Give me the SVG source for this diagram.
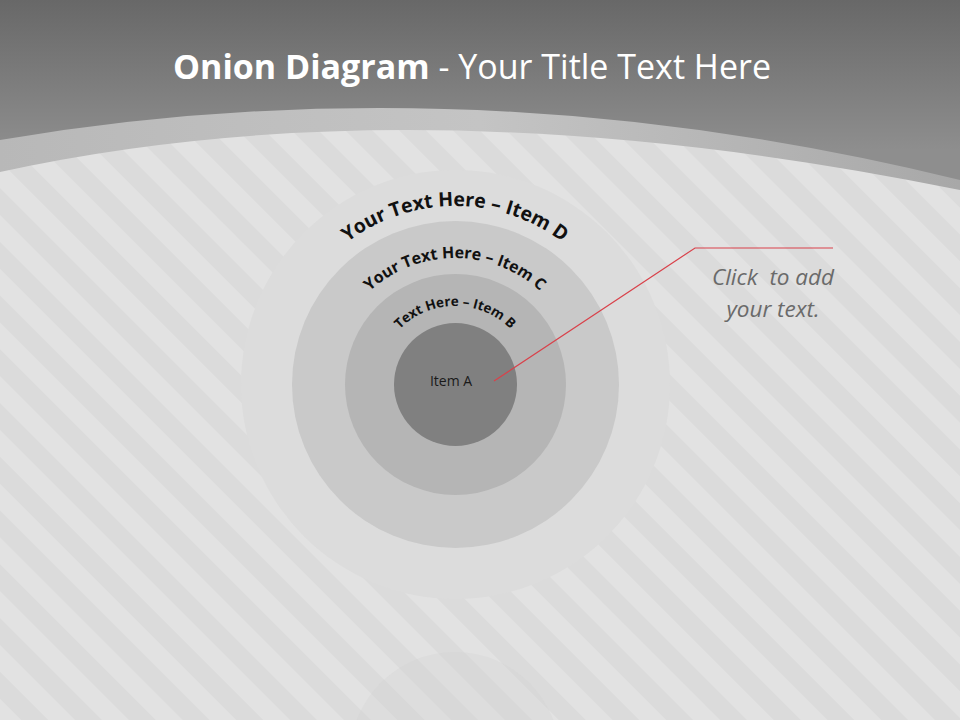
<svg xmlns="http://www.w3.org/2000/svg" width="960" height="720" viewBox="0 0 960 720">
<defs>
<linearGradient id="hdr" gradientUnits="userSpaceOnUse" x1="0" y1="0" x2="0" y2="150">
<stop offset="0" stop-color="#686868"/>
<stop offset="1" stop-color="#8e8e8e"/>
</linearGradient>
<linearGradient id="band" x1="0" y1="0" x2="1" y2="0">
<stop offset="0" stop-color="#b8b8b8"/>
<stop offset="0.5" stop-color="#c4c4c4"/>
<stop offset="1" stop-color="#a8a8a8"/>
</linearGradient>
<pattern id="stripes" width="38" height="38" patternUnits="userSpaceOnUse" patternTransform="rotate(-45)">
<rect width="38" height="38" fill="#e2e2e2"/>
<rect width="19" height="38" fill="#dbdbdb"/>
</pattern>
<path id="arcD" d="M277,384 A178,178 0 0 1 633,384"/>
<path id="arcC" d="M329,384 A126,126 0 0 1 581,384"/>
<path id="arcB" d="M377,384 A78,78 0 0 1 533,384"/>
<style>
.ring{stroke:none}
.arc{font-family:"Open Sans","Liberation Sans",sans-serif;font-weight:bold;fill:#111}
.note{font-family:"Open Sans","Liberation Sans",sans-serif;font-style:italic;font-size:22.5px;fill:#6a6a6a;text-anchor:middle;white-space:pre}
</style>
</defs>
<rect width="960" height="720" fill="url(#hdr)"/>
<path d="M0,140 Q470,60 960,180 L960,720 L0,720 Z" fill="url(#band)"/>
<path d="M0,172 Q420,80 960,190 L960,720 L0,720 Z" fill="url(#stripes)"/>
<circle cx="455" cy="757" r="105" fill="#d0d0d0" opacity="0.3"/>
<text x="472" y="79" text-anchor="middle" font-family="Open Sans, Liberation Sans, sans-serif" font-size="34" fill="#ffffff"><tspan font-weight="bold">Onion Diagram</tspan> - Your Title Text Here</text>
<g id="itemD"><circle class="ring" cx="455.5" cy="384.5" r="214.5" fill="#dcdcdc" stroke="#cdcdcd" stroke-width="1"/>
<text class="arc" font-size="19.5"><textPath href="#arcD" startOffset="50%" text-anchor="middle">Your Text Here – Item D</textPath></text></g>
<g id="itemC"><circle class="ring" cx="455.5" cy="384.5" r="163.5" fill="#c9c9c9"/>
<text class="arc" font-size="16"><textPath href="#arcC" startOffset="50%" text-anchor="middle">Your Text Here – Item C</textPath></text></g>
<g id="itemB"><circle class="ring" cx="455.5" cy="384.5" r="110.5" fill="#b5b5b5"/>
<text class="arc" font-size="13.5"><textPath href="#arcB" startOffset="50%" text-anchor="middle">Text Here – Item B</textPath></text></g>
<g id="itemA"><circle class="ring" cx="455.5" cy="384.5" r="61.5" fill="#808080"/>
<text x="451" y="386" text-anchor="middle" font-family="Open Sans, Liberation Sans, sans-serif" font-size="14" fill="#1a1a1a">Item A</text></g>
<g id="connectors"><polyline points="494,381 695,248 833,248" fill="none" stroke="#d9414a" stroke-width="1.2"/></g>
<g id="note"><text class="note" x="773" y="285" xml:space="preserve">Click  to add</text><text class="note" x="773" y="317">your text.</text></g>
</svg>
